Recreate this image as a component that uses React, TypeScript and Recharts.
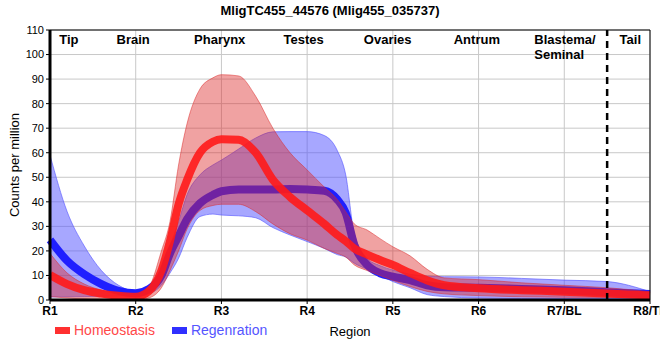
import {
  ComposedChart,
  Area,
  XAxis,
  YAxis,
  CartesianGrid,
  ReferenceLine,
  ReferenceDot,
} from "recharts"

// sample positions along the body (1 = R1 ... 8 = R8/TL)
const pos = [1, 1.2, 1.4, 1.6, 1.8, 2, 2.15, 2.3, 2.4, 2.5, 2.6, 2.75, 2.9, 3, 3.2, 3.4, 3.6, 3.8, 4, 4.2, 4.35, 4.45, 4.55, 4.7, 4.85, 5, 5.2, 5.4, 5.6, 6, 6.5, 7, 7.5, 8]

const homeoMean = [10.2, 6.5, 4, 2.6, 1.7, 1.3, 3.5, 12, 24, 39, 49, 60, 64.5, 65.5, 65.3, 60, 49, 42, 36.5, 31, 26.5, 24, 21, 18.5, 16.3, 14.3, 11, 8, 6, 4.8, 4, 3.4, 2.6, 1.8]
const homeoLow = [1.4, 0.8, 0.4, 0, 0, 0, 0.8, 5, 12, 20, 29, 36.5, 38.5, 39, 39, 36, 31, 27, 24.4, 21, 19, 17.5, 14.3, 12, 10, 8, 5.5, 3.5, 2.5, 1.8, 1.3, 1.1, 1, 0.7]
const homeoHigh = [19, 11, 6.5, 4, 2.5, 1.8, 5, 20, 32, 55, 72, 86, 90.5, 91.8, 91.3, 83, 70, 60, 53, 46, 41, 36, 31, 28.5, 25, 21.7, 18, 12.5, 9, 8.3, 7, 6, 5, 3.4]

const regenMean = [24.5, 16, 10.5, 6.5, 3.7, 2.7, 4.4, 10, 19, 26, 33, 39.4, 42.8, 44.3, 45, 45, 45, 45.2, 45, 44.5, 41, 35.5, 22.5, 14.3, 10.9, 9.5, 8.1, 6, 5.2, 5, 4.5, 4, 3.2, 2.4]
const regenLow = [1.2, 1.3, 1.4, 1.5, 1.6, 1.7, 2.5, 6, 11, 17, 25.5, 34, 35, 34.6, 34.3, 33.5, 29.5, 26.5, 23.8, 21, 18.5, 17.5, 15, 12.5, 10, 7.5, 5, 2.2, 1.4, 0.8, 0.6, 0.5, 0.5, 0.5]
const regenHigh = [59, 36, 22, 12, 6, 3.6, 5.5, 13, 22, 32, 43, 51, 55, 57, 61.5, 66, 68.5, 68.6, 68.6, 67, 61, 51, 27, 17, 14, 12.2, 10.5, 9.7, 9.5, 9.4, 8.8, 8.1, 7.5, 3.4]

const xTicks = [1, 2, 3, 4, 5, 6, 7, 8]
const xLabels = ["R1", "R2", "R3", "R4", "R5", "R6", "R7/BL", "R8/TL"]
const yTicks = [0, 10, 20, 30, 40, 50, 60, 70, 80, 90, 100, 110]

const regions = [
  { name: "Tip", x: 1.22 },
  { name: "Brain", x: 1.97 },
  { name: "Pharynx", x: 2.98 },
  { name: "Testes", x: 3.96 },
  { name: "Ovaries", x: 4.94 },
  { name: "Antrum", x: 5.98 },
  { name: "Blastema/|Seminal", x: 6.65, left: true },
  { name: "Tail", x: 7.77 },
]

const data = pos.map((x, i) => ({
  x,
  homeo: homeoMean[i],
  regen: regenMean[i],
  homeoBand: [homeoLow[i], homeoHigh[i]],
  regenBand: [regenLow[i], regenHigh[i]],
}))

const FONT = "'Liberation Sans', Arial, sans-serif"

function RegionText(props: any) {
  const { cx, cy, name, left } = props
  const lines = name.split("|")
  return (
    <text
      x={cx}
      y={cy}
      textAnchor={left ? "start" : "middle"}
      fontSize={13}
      fontWeight="bold"
      fill="#000"
      fontFamily={FONT}
    >
      {lines.map((l: string, i: number) => (
        <tspan key={i} x={cx} dy={i === 0 ? 0 : 15}>
          {l}
        </tspan>
      ))}
    </text>
  )
}

export default function App() {
  return (
    <div
      style={{
        position: "absolute",
        top: 0,
        left: 0,
        width: 660,
        height: 360,
        background: "#fff",
        fontFamily: FONT,
      }}
    >
      <div
        style={{
          position: "absolute",
          top: 3,
          left: 0,
          width: 660,
          textAlign: "center",
          fontSize: 13,
          fontWeight: "bold",
        }}
      >
        MligTC455_44576 (Mlig455_035737)
      </div>
      <ComposedChart
        width={660}
        height={360}
        data={data}
        margin={{ top: 30, right: 10, bottom: 20, left: 0 }}
        style={{ fontFamily: FONT }}
      >
        <CartesianGrid stroke="#c8c8c8" strokeWidth={1} />
        <XAxis
          dataKey="x"
          type="number"
          domain={[1, 8]}
          ticks={xTicks}
          tickFormatter={(v: number) => xLabels[v - 1]}
          height={40}
          axisLine={{ stroke: "#000", strokeWidth: 3 }}
          tickLine={{ stroke: "#000" }}
          tickSize={4}
          tick={{ fill: "#000", fontSize: 12, fontWeight: "bold" }}
          interval={0}
          label={{ value: "Region", position: "insideBottom", offset: 4, fill: "#000", fontSize: 13 }}
        />
        <YAxis
          type="number"
          domain={[0, 110]}
          ticks={yTicks}
          width={50}
          axisLine={{ stroke: "#000", strokeWidth: 3 }}
          tickLine={{ stroke: "#000" }}
          tickSize={4}
          tick={{ fill: "#000", fontSize: 11 }}
          interval={0}
          label={{
            value: "Counts per million",
            angle: -90,
            position: "center",
            dx: -11,
            fill: "#000",
            fontSize: 13,
          }}
        />
        <Area
          dataKey="regenBand"
          type="monotone"
          fill="#5050ff"
          fillOpacity={0.5}
          stroke="#5050ff"
          strokeOpacity={0.6}
          strokeWidth={1}
          isAnimationActive={false}
          dot={false}
          activeDot={false}
        />
        <Area
          dataKey="regen"
          type="monotone"
          fill="none"
          stroke="#1f1fff"
          strokeWidth={8}
          dot={false}
          activeDot={false}
          isAnimationActive={false}
        />
        <Area
          dataKey="homeoBand"
          type="monotone"
          fill="#dc2828"
          fillOpacity={0.43}
          stroke="#dc2828"
          strokeOpacity={0.5}
          strokeWidth={1}
          isAnimationActive={false}
          dot={false}
          activeDot={false}
        />
        <Area
          dataKey="homeo"
          type="monotone"
          fill="none"
          stroke="#ff1a1a"
          strokeOpacity={0.9}
          strokeWidth={8}
          dot={false}
          activeDot={false}
          isAnimationActive={false}
        />
        <ReferenceLine y={110} stroke="#000" strokeWidth={1} />
        <ReferenceLine x={8} stroke="#000" strokeWidth={1} />
        <ReferenceLine x={7.5} stroke="#000" strokeWidth={2.5} strokeDasharray="7 5" />
        {regions.map((r) => (
          <ReferenceDot
            key={r.name}
            x={r.x}
            y={104.3}
            r={0}
            shape={(p: any) => <RegionText {...p} name={r.name} left={r.left} />}
          />
        ))}
      </ComposedChart>
      <div
        style={{
          position: "absolute",
          top: 322,
          left: 55,
          display: "flex",
          alignItems: "center",
          fontSize: 14,
        }}
      >
        <span style={{ width: 15, height: 7, background: "#ff3030", display: "inline-block", marginRight: 4 }} />
        <span style={{ color: "#ff4848", marginRight: 17 }}>Homeostasis</span>
        <span style={{ width: 15, height: 7, background: "#3030ff", display: "inline-block", marginRight: 4 }} />
        <span style={{ color: "#5555ff" }}>Regenration</span>
      </div>
    </div>
  )
}
